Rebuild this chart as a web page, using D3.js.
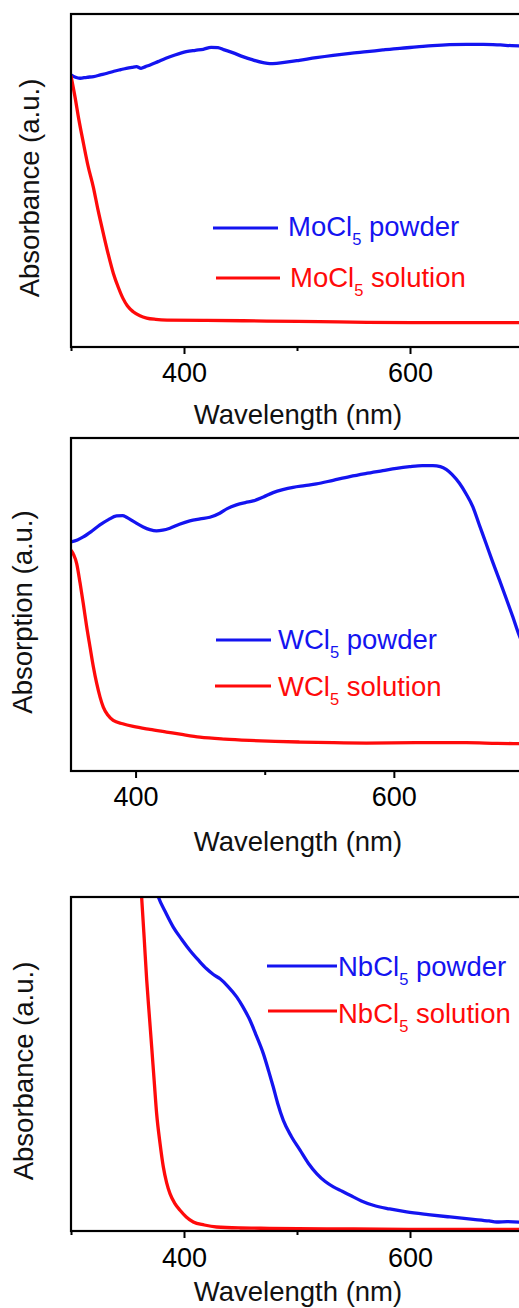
<!DOCTYPE html>
<html>
<head>
<meta charset="utf-8">
<script src="https://cdn.jsdelivr.net/npm/d3@7"></script>
<style>
  html, body { margin: 0; padding: 0; background: #fff; overflow: hidden; }
  svg { display: block; font-family: "Liberation Sans", Arial, sans-serif; }
</style>
</head>
<body>
<svg id="chart" width="519" height="1308"></svg>
<script>
// ---- MoCl5 spectra (wavelength in nm, absorbance in a.u.) ----
const moWavelength = [300, 304, 308, 314, 320, 326, 332, 338, 344, 349, 354, 358, 362, 366, 370, 377, 384, 392, 402, 410, 417, 424, 430, 435, 443, 452, 461, 470, 476, 482, 492, 502, 517, 532, 547, 562, 576, 591, 606, 620, 635, 650, 665, 680, 690, 700];
const moPowder = [0.817, 0.810, 0.807, 0.810, 0.812, 0.817, 0.822, 0.828, 0.833, 0.837, 0.840, 0.842, 0.837, 0.842, 0.847, 0.857, 0.867, 0.877, 0.887, 0.891, 0.894, 0.900, 0.899, 0.893, 0.884, 0.872, 0.862, 0.854, 0.851, 0.852, 0.856, 0.861, 0.869, 0.876, 0.882, 0.887, 0.892, 0.897, 0.901, 0.905, 0.908, 0.909, 0.909, 0.907, 0.905, 0.904];
const moSolWavelength = [300, 303.5, 307, 311, 315, 319.7, 324, 328.6, 333, 337.5, 342, 346, 350, 355, 361, 367, 375, 385, 420, 473, 520, 562, 620, 700];
const moSolution = [0.814, 0.752, 0.682, 0.612, 0.545, 0.481, 0.410, 0.341, 0.278, 0.221, 0.178, 0.146, 0.123, 0.106, 0.094, 0.087, 0.083, 0.081, 0.080, 0.078, 0.076, 0.074, 0.073, 0.073];

// ---- WCl5 spectra ----
const wWavelength = [350, 355, 359.5, 366, 372.4, 379, 385.3, 390, 393, 399, 405.9, 411, 416.2, 421, 426.6, 434, 442, 450, 457.5, 465.2, 471, 478.1, 485, 491, 499, 506.5, 514, 522, 531, 540, 553, 565.8, 578, 591.5, 602, 612.2, 622, 630.2, 636, 640.5, 645, 650.8, 656, 661.1, 666, 671.4, 676.5, 681.8, 687, 692.1, 696.5, 700];
const wPowder = [0.688, 0.694, 0.703, 0.720, 0.739, 0.755, 0.766, 0.767, 0.762, 0.748, 0.733, 0.725, 0.721, 0.723, 0.729, 0.741, 0.751, 0.757, 0.762, 0.774, 0.788, 0.799, 0.806, 0.811, 0.823, 0.836, 0.845, 0.852, 0.857, 0.862, 0.873, 0.884, 0.893, 0.902, 0.909, 0.914, 0.917, 0.917, 0.914, 0.906, 0.891, 0.864, 0.832, 0.794, 0.741, 0.683, 0.628, 0.573, 0.518, 0.463, 0.413, 0.380];
const wSolWavelength = [350, 352, 354.4, 357, 359.5, 362, 364.7, 367.3, 369.9, 372.5, 375, 378.5, 382.7, 390, 398.2, 411, 424, 437, 449.8, 469, 488.4, 508, 527, 553, 578.7, 617, 656, 680, 700];
const wSolution = [0.663, 0.650, 0.623, 0.565, 0.503, 0.437, 0.373, 0.313, 0.263, 0.222, 0.192, 0.168, 0.152, 0.142, 0.134, 0.125, 0.117, 0.109, 0.102, 0.096, 0.092, 0.089, 0.087, 0.085, 0.084, 0.085, 0.085, 0.083, 0.082];

// ---- NbCl5 spectra ----
const nbWavelength = [372, 377.3, 384, 390.5, 398, 405.3, 413, 420, 426, 431.9, 439, 446.6, 452, 458.4, 464, 470.2, 475, 479, 483, 487.9, 495, 502.7, 510, 517.4, 525, 532.2, 540, 547, 557, 567.5, 582, 597, 616, 635.4, 656, 670, 676.7, 686, 700];
const nbPowder = [1.060, 1.000, 0.952, 0.910, 0.873, 0.840, 0.810, 0.785, 0.768, 0.755, 0.732, 0.701, 0.672, 0.631, 0.585, 0.531, 0.478, 0.431, 0.381, 0.331, 0.283, 0.242, 0.203, 0.172, 0.148, 0.132, 0.119, 0.107, 0.090, 0.077, 0.066, 0.057, 0.049, 0.042, 0.035, 0.030, 0.027, 0.028, 0.026];
const nbSolWavelength = [360, 362.5, 364.8, 367, 369.2, 371.4, 373.6, 375.8, 378.8, 381.7, 384.6, 387.6, 392, 396.5, 402, 408.2, 418, 428.9, 450, 475.5, 550, 620, 700];
const nbSolution = [1.120, 1.000, 0.875, 0.751, 0.650, 0.551, 0.450, 0.351, 0.262, 0.192, 0.145, 0.112, 0.082, 0.062, 0.042, 0.027, 0.018, 0.012, 0.009, 0.008, 0.006, 0.005, 0.005];

// ---- axis ticks and labels ----
const majorTicks = [400, 600];
const minorTicks = [300, 500, 700];
const xTitle = "Wavelength (nm)";

const panels = [
  {
    id: "mo", top: 14, bottom: 347, xDomain: [300, 700], yDomain: [0, 1],
    yTitle: "Absorbance (a.u.)", yTitleX: 39, yTitleY: 188,
    tickBaseline: 35, titleBaseline: 424,
    series: [
      { name: "powder", x: moWavelength, y: moPowder, color: "#1414f0" },
      { name: "solution", x: moSolWavelength, y: moSolution, color: "#ff0a0a" }
    ],
    legend: [
      { compound: "MoCl", state: " powder", color: "#1414f0", x1: 213, x2: 278, ly: 228, tx: 288, ty: 236 },
      { compound: "MoCl", state: " solution", color: "#ff0a0a", x1: 216, x2: 280, ly: 278, tx: 290, ty: 287 }
    ]
  },
  {
    id: "w", top: 438, bottom: 771, xDomain: [350, 700], yDomain: [0, 1],
    yTitle: "Absorption (a.u.)", yTitleX: 32, yTitleY: 612,
    tickBaseline: 35, titleBaseline: 851,
    series: [
      { name: "powder", x: wWavelength, y: wPowder, color: "#1414f0" },
      { name: "solution", x: wSolWavelength, y: wSolution, color: "#ff0a0a" }
    ],
    legend: [
      { compound: "WCl", state: " powder", color: "#1414f0", x1: 216, x2: 271, ly: 640, tx: 278, ty: 649 },
      { compound: "WCl", state: " solution", color: "#ff0a0a", x1: 215, x2: 271, ly: 686, tx: 278, ty: 696 }
    ]
  },
  {
    id: "nb", top: 897, bottom: 1231, xDomain: [300, 700], yDomain: [0, 1],
    yTitle: "Absorbance (a.u.)", yTitleX: 33, yTitleY: 1071,
    tickBaseline: 36, titleBaseline: 1301,
    series: [
      { name: "powder", x: nbWavelength, y: nbPowder, color: "#1414f0" },
      { name: "solution", x: nbSolWavelength, y: nbSolution, color: "#ff0a0a" }
    ],
    legend: [
      { compound: "NbCl", state: " powder", color: "#1414f0", x1: 267, x2: 337, ly: 966, tx: 338, ty: 976 },
      { compound: "NbCl", state: " solution", color: "#ff0a0a", x1: 268, x2: 337, ly: 1011, tx: 338, ty: 1023 }
    ]
  }
];

const svg = d3.select("#chart");
const left = 71, right = 523;

panels.forEach(p => {
  const x = d3.scaleLinear().domain(p.xDomain).range([left, right]);
  const y = d3.scaleLinear().domain(p.yDomain).range([p.bottom, p.top]);
  const g = svg.append("g").attr("class", "panel-" + p.id);

  const clipId = "clip-" + p.id;
  g.append("clipPath").attr("id", clipId)
    .append("rect")
    .attr("x", left).attr("y", p.top)
    .attr("width", right - left).attr("height", p.bottom - p.top);

  // spectra
  const line = d3.line()
    .x(d => x(d[0]))
    .y(d => y(d[1]))
    .curve(d3.curveMonotoneX);

  const plot = g.append("g").attr("clip-path", `url(#${clipId})`);
  p.series.forEach(s => {
    plot.append("path")
      .datum(s.x.map((w, i) => [w, s.y[i]]))
      .attr("fill", "none")
      .attr("stroke", s.color)
      .attr("stroke-width", 3.3)
      .attr("stroke-linejoin", "round")
      .attr("d", line);
  });

  // minor ticks (unlabelled)
  g.append("g")
    .attr("transform", `translate(0,${p.bottom})`)
    .call(d3.axisBottom(x).tickValues(minorTicks.filter(t => t >= p.xDomain[0])).tickSize(4).tickFormat(""))
    .call(a => a.select(".domain").remove())
    .call(a => a.selectAll("line").attr("stroke", "#000").attr("stroke-width", 2));

  // major ticks with labels
  g.append("g")
    .attr("transform", `translate(0,${p.bottom})`)
    .call(d3.axisBottom(x).tickValues(majorTicks).tickSize(7).tickPadding(0).tickFormat(d3.format("d")))
    .call(a => a.select(".domain").remove())
    .call(a => a.selectAll("line").attr("stroke", "#000").attr("stroke-width", 2))
    .call(a => a.selectAll("text")
      .attr("y", p.tickBaseline).attr("dy", null)
      .attr("fill", "#000")
      .attr("font-size", 27)
      .attr("font-family", "Liberation Sans, Arial, sans-serif"));

  // frame
  g.append("rect")
    .attr("x", left).attr("y", p.top)
    .attr("width", right - left).attr("height", p.bottom - p.top)
    .attr("fill", "none")
    .attr("stroke", "#000")
    .attr("stroke-width", 2.2);

  // axis titles
  g.append("text")
    .attr("x", 298).attr("y", p.titleBaseline)
    .attr("text-anchor", "middle")
    .attr("font-size", 27.5)
    .attr("fill", "#111")
    .text(xTitle);

  g.append("text")
    .attr("transform", `translate(${p.yTitleX},${p.yTitleY}) rotate(-90)`)
    .attr("text-anchor", "middle")
    .attr("font-size", 27.5)
    .attr("fill", "#111")
    .text(p.yTitle);

  // legend
  p.legend.forEach(l => {
    g.append("line")
      .attr("x1", l.x1).attr("x2", l.x2)
      .attr("y1", l.ly).attr("y2", l.ly)
      .attr("stroke", l.color)
      .attr("stroke-width", 3);
    const t = g.append("text")
      .attr("x", l.tx).attr("y", l.ty)
      .attr("font-size", 27.5)
      .attr("fill", l.color);
    t.append("tspan").text(l.compound);
    t.append("tspan").attr("font-size", 16.5).attr("dy", 9).text("5");
    t.append("tspan").attr("dy", -9).text(l.state);
  });
});
</script>
</body>
</html>
